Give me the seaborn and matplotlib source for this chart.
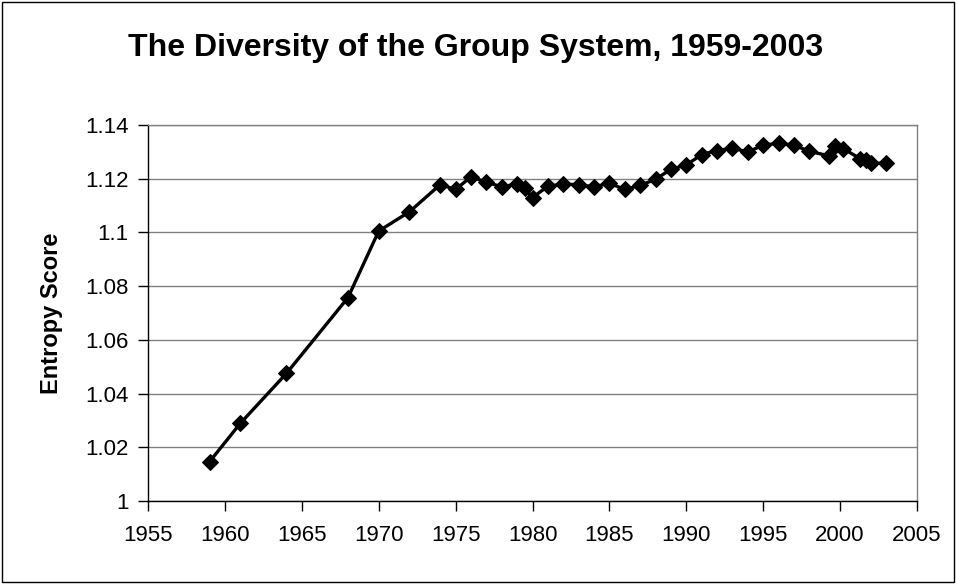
import pandas as pd
import matplotlib
matplotlib.use("Agg")
import matplotlib.pyplot as plt
import seaborn as sns
from matplotlib.patches import Rectangle

# Data
years = [1959, 1961, 1964, 1968, 1970, 1972, 1974, 1975, 1976, 1977, 1978,
         1979, 1979.5, 1980, 1981, 1982, 1983, 1984, 1985, 1986, 1987, 1988,
         1989, 1990, 1991, 1992, 1993, 1994, 1995, 1996, 1997, 1998,
         1999.3, 1999.7, 2000.2, 2001.3, 2001.7, 2002, 2003]
entropy = [1.0146, 1.0289, 1.0475, 1.0757, 1.1005, 1.1077, 1.1178, 1.1160,
           1.1207, 1.1187, 1.1170, 1.1180, 1.1165, 1.1130, 1.1172, 1.1180,
           1.1178, 1.1170, 1.1183, 1.1160, 1.1175, 1.1198, 1.1235, 1.1251,
           1.1290, 1.1305, 1.1313, 1.1300, 1.1325, 1.1332, 1.1325, 1.1302,
           1.1285, 1.1322, 1.1312, 1.1275, 1.1268, 1.1257, 1.1258]
y_ticks = [1, 1.02, 1.04, 1.06, 1.08, 1.1, 1.12, 1.14]
y_tick_labels = ['1', '1.02', '1.04', '1.06', '1.08', '1.1', '1.12', '1.14']

df = pd.DataFrame({'Year': years, 'Entropy Score': entropy})

sns.set_style("white")
plt.rcParams['font.family'] = ['Liberation Sans', 'DejaVu Sans']
plt.rcParams['text.color'] = 'black'
plt.rcParams['axes.labelcolor'] = 'black'
plt.rcParams['xtick.color'] = 'black'
plt.rcParams['ytick.color'] = 'black'

fig = plt.figure(figsize=(9.56, 5.84), dpi=100)
ax = fig.add_axes([148 / 956, 1 - 501 / 584, (917 - 148) / 956, (501 - 125) / 584])

sns.lineplot(data=df, x='Year', y='Entropy Score', ax=ax, color='black',
             linewidth=2.4, marker='D', markersize=8, markeredgecolor='black',
             markerfacecolor='black', zorder=3)

ax.set_xlim(1955, 2005)
ax.set_ylim(1, 1.14)
ax.set_xticks(range(1955, 2006, 5))
ax.set_yticks(y_ticks)
ax.set_yticklabels(y_tick_labels)
ax.tick_params(axis='both', labelsize=16, length=7, width=1,
               direction='out', left=True, bottom=True)
ax.tick_params(axis='x', pad=10)
ax.tick_params(axis='y', pad=7)
ax.grid(axis='y', color='#808080', linewidth=1)
ax.grid(axis='x', visible=False)

for side in ['top', 'right']:
    ax.spines[side].set_color('#808080')
    ax.spines[side].set_linewidth(1)
for side in ['left', 'bottom']:
    ax.spines[side].set_color('black')
    ax.spines[side].set_linewidth(1)

ax.set_xlabel('')
ax.set_ylabel('Entropy Score', fontsize=17, fontweight='bold', labelpad=16)
fig.text(0.497, 1 - 56 / 584, 'The Diversity of the Group System, 1959-2003',
         ha='center', va='baseline', fontsize=23, fontweight='bold')

fig.patches.append(Rectangle((2 / 956, 2 / 584), 952 / 956, 580 / 584,
                             transform=fig.transFigure, fill=False,
                             edgecolor='black', linewidth=1))

fig.savefig('out.png', dpi=100)
